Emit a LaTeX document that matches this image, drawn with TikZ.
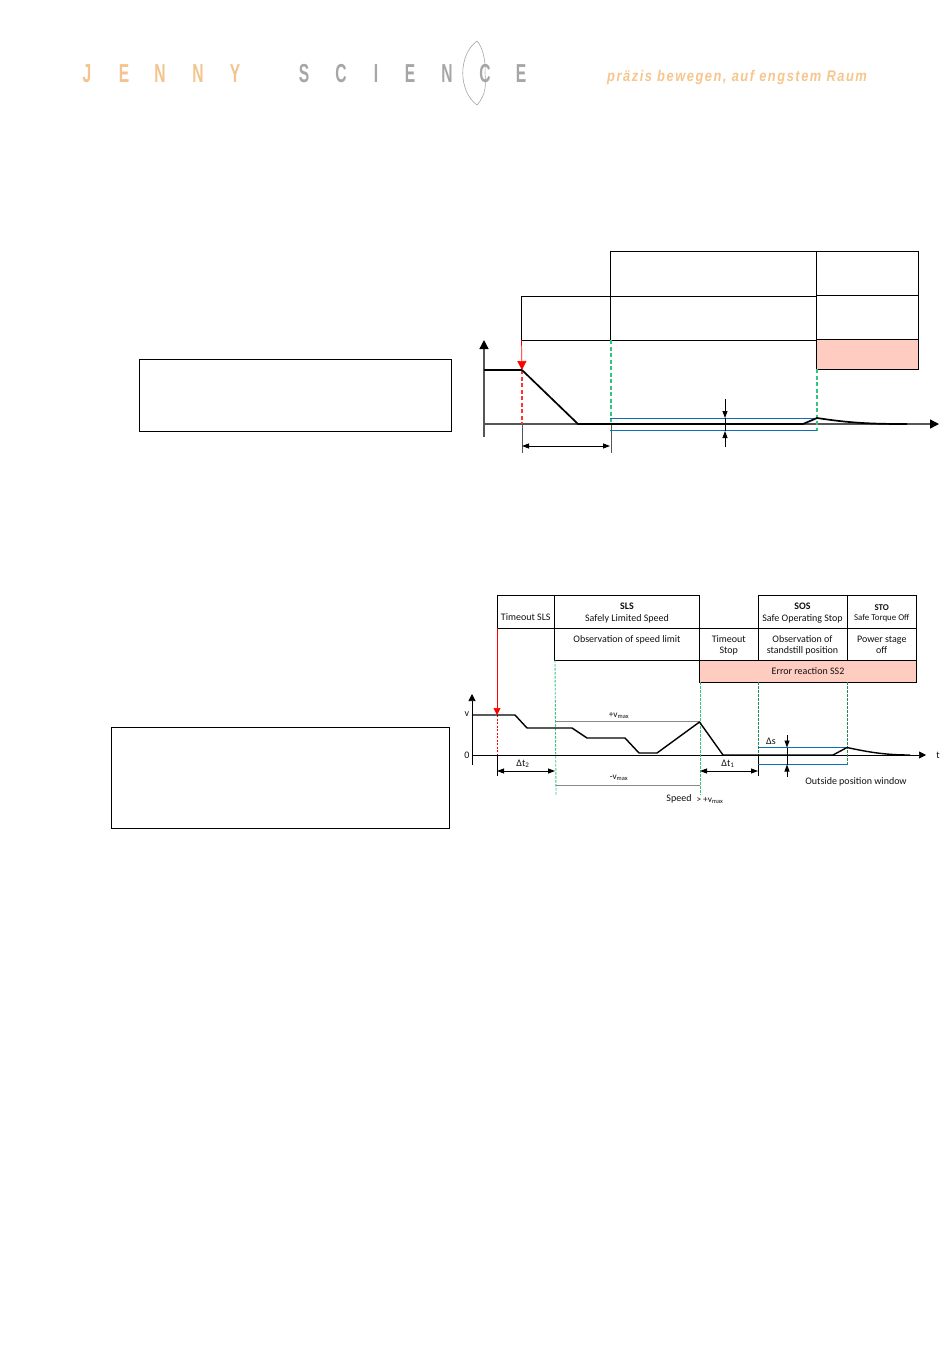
\documentclass[tikz,border=0pt]{standalone}
\usepackage{fontspec}
\usepackage{graphicx}
\setmainfont{Carlito}
\setsansfont{Liberation Sans}
\newfontfamily\logofont[LetterSpace=12]{Liberation Sans}
\usetikzlibrary{arrows.meta}
\definecolor{logoorange}{HTML}{F3C48F}
\definecolor{logogrey}{HTML}{A6A6A6}
\definecolor{tagorange}{HTML}{F6C68E}
\definecolor{pinkfill}{HTML}{FFCCC2}
\definecolor{safegreen}{HTML}{35C47C}
\definecolor{winblue}{HTML}{0F6FB5}
\definecolor{axisgrey}{HTML}{555555}
\definecolor{txt}{HTML}{111111}
\newcommand{\logoletter}[1]{\scalebox{0.6}[1]{#1}}
\newcommand{\twolines}[2]{\raisebox{-4pt}[0pt][0pt]{\begin{tabular}[c]{@{}c@{}}#1\\#2\end{tabular}}}
\tikzset{
  x=1pt,y=-1pt,
  cell/.style={draw=black,line width=0.9pt,anchor=north west,inner sep=0pt,outer sep=0pt,align=center,font=\fontsize{10}{11.5}\selectfont,text=txt},
  pinkcell/.style={cell,fill=pinkfill},
  plainbox/.style={draw=black,line width=0.7pt,anchor=north west,inner sep=0pt,outer sep=0pt},
  lab/.style={inner sep=0pt,font=\fontsize{10}{11}\selectfont,text=txt},
  sublab/.style={lab,font=\fontsize{9.2}{10}\selectfont},
  jlet/.style={inner sep=0pt,font=\bfseries\fontsize{26}{26}\selectfont\sffamily,text=logoorange},
  slet/.style={jlet,text=logogrey},
  motion/.style={line width=1.7pt,black,line join=round},
  axisA/.style={axisgrey,line width=1.3pt,-{Triangle[length=9pt,width=9pt,color=black]}},
  axisB/.style={black,line width=0.7pt,-{Triangle[length=7pt,width=7pt]}},
  ref/.style={axisgrey,line width=1pt},
  span/.style={black,line width=0.8pt,{Triangle[length=7pt,width=5pt]}-{Triangle[length=7pt,width=5pt]}},
  pointer/.style={black,line width=0.8pt,-{Triangle[length=7pt,width=5pt]}},
  redarrow/.style={red,line width=0.7pt,-{Triangle[length=9pt,width=9pt]}},
  redarrowsmall/.style={red,line width=0.7pt,-{Triangle[length=7pt,width=7pt]}},
  reddash/.style={red!80,line width=1.3pt,dash pattern=on 4pt off 2.5pt},
  greendash/.style={safegreen,line width=1.3pt,dash pattern=on 4pt off 2.5pt},
  thingreen/.style={safegreen,line width=0.9pt,dash pattern=on 2.5pt off 1.5pt},
  darkgreen/.style={safegreen!70!black,line width=0.9pt,dash pattern=on 2.5pt off 1.5pt},
  windowline/.style={winblue,line width=0.8pt},
  limitline/.style={axisgrey!70,line width=0.8pt},
}
\begin{document}
\begin{tikzpicture}
\useasboundingbox (0,0) rectangle (950,1360);
\fill[white] (0,0) rectangle (950,1360);

% logo
\node[jlet] (l1) at (87,74) {\logoletter{J}};
\node[jlet] (l2) at (124,74) {\logoletter{E}};
\node[jlet] (l3) at (160,74) {\logoletter{N}};
\node[jlet] (l4) at (198,74) {\logoletter{N}};
\node[jlet] (l5) at (235,74) {\logoletter{Y}};
\node[slet] (l6) at (304,74) {\logoletter{S}};
\node[slet] (l7) at (341,74) {\logoletter{C}};
\node[slet] (l8) at (376,74) {\logoletter{I}};
\node[slet] (l9) at (410,74) {\logoletter{E}};
\node[slet] (l10) at (447,74) {\logoletter{N}};
\node[slet] (l11) at (485,74) {\logoletter{C}};
\node[slet] (l12) at (521,74) {\logoletter{E}};
\draw[logogrey,line width=0.6pt] (477,41) .. controls (458,55) and (458,91) .. (477,105)
  .. controls (486,95) and (486,85) .. (485,73) .. controls (486,60) and (482,46) .. (477,41);
\node[inner sep=0pt,anchor=west,text=tagorange,font={\logofont\bfseries\itshape\fontsize{15.5}{16}\selectfont}] (tag) at (607,77.5) {\scalebox{0.83}[1]{präzis bewegen, auf engstem Raum}};

% empty text frames
\node[plainbox,minimum width=312pt,minimum height=72pt] (frameA) at (139,359) {};
\node[plainbox,minimum width=338pt,minimum height=101pt] (frameB) at (111,727) {};

% ---------- first diagram ----------
\node[pinkcell,minimum width=102pt,minimum height=30pt] (a7) at (816.5,339) {};
\node[cell,minimum width=206.5pt,minimum height=45pt] (a1) at (610,251) {};
\node[cell,minimum width=102pt,minimum height=44pt] (a2) at (816.5,251) {};
\node[cell,minimum width=89pt,minimum height=44pt] (a3) at (521.5,296) {};
\node[cell,minimum width=206.5pt,minimum height=44pt] (a4) at (610,296) {};
\node[cell,minimum width=102pt,minimum height=44pt] (a5) at (816.5,295) {};

\coordinate (aO) at (484,424);
\coordinate (aYb) at (484,437);
\coordinate (aYt) at (484,340);
\coordinate (aXe) at (939,424);
\coordinate (aRed) at (522,370);
\coordinate (aRedB) at (522,424);
\coordinate (aTickA) at (522,453);
\coordinate (aTickB) at (611,453);
\coordinate (aGA) at (611,340);
\coordinate (aGAb) at (611,424);
\coordinate (aGB) at (817,369);
\coordinate (aGBb) at (817,431);
\coordinate (aWT1) at (610,418);
\coordinate (aWT2) at (817,418);
\coordinate (aWB1) at (610,430.5);
\coordinate (aWB2) at (817,430.5);
\coordinate (aS1) at (725,399);
\coordinate (aS2) at (725,418);
\coordinate (aS3) at (725,447);
\coordinate (aS4) at (725,431);
\coordinate (aD1) at (522,446);
\coordinate (aD2) at (610,446);

\draw[axisA] (aYb) -- (aYt);
\draw[axisA] (aO) -- (aXe);
\draw[reddash] (aRed) -- (aRedB);
\draw[ref] (aRedB) -- (aTickA);
\draw[ref] (aGAb) -- (aTickB);
\draw[greendash] (aGA) -- (aGAb);
\draw[greendash] (aGB) -- (aGBb);
\draw[windowline] (aWT1) -- (aWT2);
\draw[windowline] (aWB1) -- (aWB2);
\draw[motion] (484,370) -- (aRed) -- (578,424) -- (803,424) -- (817,418) .. controls (850,423) and (870,424) .. (907,424);
\draw[redarrow] (a3.south west) -- (aRed);
\draw[pointer] (aS1) -- (aS2);
\draw[pointer] (aS3) -- (aS4);
\draw[black,line width=0.8pt] (aS2) -- (aS4);
\draw[span] (aD1) -- (aD2);

% ---------- second diagram ----------
\node[pinkcell,minimum width=217pt,minimum height=22pt] (b9) at (699.5,660) {Error reaction SS2};
\node[cell,minimum width=57.5pt,minimum height=33pt] (b1) at (497,595) {\raisebox{-8.5pt}[0pt][0pt]{Timeout SLS}};
\node[cell,minimum width=145pt,minimum height=33pt] (b2) at (554.5,595) {\twolines{\textbf{SLS}}{Safely Limited Speed}};
\node[cell,minimum width=89pt,minimum height=33pt] (b4) at (758,595) {\twolines{\textbf{SOS}}{Safe Operating Stop}};
\node[cell,minimum width=69.5pt,minimum height=33pt,font=\fontsize{8.9}{10.5}\selectfont] (b5) at (847,595) {\twolines{\textbf{STO}}{Safe Torque Off}};
\node[cell,minimum width=145pt,minimum height=32pt] (b6) at (554.5,628) {\raisebox{9pt}{Observation of speed limit}};
\node[cell,minimum width=58.5pt,minimum height=32pt] (b7) at (699.5,628) {\twolines{Timeout}{Stop}};
\node[cell,minimum width=89pt,minimum height=32pt] (b8) at (758,628) {\twolines{Observation of}{standstill position}};
\node[cell,minimum width=69.5pt,minimum height=32pt] (b10) at (847,628) {\twolines{Power stage}{off}};

\coordinate (bYb) at (472,765);
\coordinate (bYt) at (472,694);
\coordinate (bO) at (472,755);
\coordinate (bXe) at (926,755);
\coordinate (bRed) at (497,715);
\coordinate (bRedB) at (497,755);
\coordinate (bTickA) at (497,776);
\coordinate (bG1) at (555,660);
\coordinate (bG1b) at (556,795);
\coordinate (bG2) at (700,682);
\coordinate (bG2b) at (700,795);
\coordinate (bG3) at (758,682);
\coordinate (bG3b) at (758,755);
\coordinate (bTick3) at (758,776);
\coordinate (bG4) at (847.5,682);
\coordinate (bG4b) at (847.5,765);
\coordinate (bVp1) at (555,721.5);
\coordinate (bVp2) at (700,721.5);
\coordinate (bVm1) at (556,785);
\coordinate (bVm2) at (700,785);
\coordinate (bW1a) at (758,747.5);
\coordinate (bW1b) at (847,747.5);
\coordinate (bW2a) at (758,764.5);
\coordinate (bW2b) at (847,764.5);
\coordinate (bS1) at (787,735);
\coordinate (bS2) at (787,747.5);
\coordinate (bS3) at (787,777);
\coordinate (bS4) at (787,764.5);
\coordinate (bD1) at (497,771);
\coordinate (bD2) at (555,771);
\coordinate (bD3) at (700,771);
\coordinate (bD4) at (758,771);

\draw[axisB] (bYb) -- (bYt);
\draw[axisB] (bO) -- (bXe);
\draw[red,line width=0.9pt,dash pattern=on 2pt off 1.5pt] (bRed) -- (bRedB);
\draw[black,line width=0.8pt] (bRedB) -- (bTickA);
\draw[black,line width=0.8pt] (bG3b) -- (bTick3);
\draw[thingreen] (bG1) -- (bG1b);
\draw[thingreen] (bG2) -- (bG2b);
\draw[darkgreen] (bG3) -- (bG3b);
\draw[darkgreen] (bG4) -- (bG4b);
\draw[limitline] (bVp1) -- (bVp2);
\draw[limitline] (bVm1) -- (bVm2);
\draw[windowline] (bW1a) -- (bW1b);
\draw[windowline] (bW2a) -- (bW2b);
\draw[motion,line width=1.4pt] (472,715) -- (515,715) -- (527,728) -- (572,728) -- (587,738) -- (625,738) -- (639,753) -- (657,753) -- (699.5,722) -- (723,755) -- (833,755) -- (847,747.5) .. controls (868,752) and (885,755) .. (910,755);
\draw[redarrowsmall] (b1.south west) -- (bRed);
\draw[pointer] (bS1) -- (bS2);
\draw[pointer] (bS3) -- (bS4);
\draw[black,line width=0.8pt] (bS2) -- (bS4);
\draw[span] (bD1) -- (bD2);
\draw[span] (bD3) -- (bD4);

\node[lab] (v) at (467,714) {v};
\node[lab] (zero) at (467,755.5) {0};
\node[lab] (t) at (938,755) {t};
\node[sublab] (vp) at (619,715) {+v\textsubscript{max}};
\node[sublab] (vm) at (619,778) {-v\textsubscript{max}};
\node[lab] (dt2) at (523,764) {Δt\textsubscript{2}};
\node[lab] (dt1) at (728,764) {Δt\textsubscript{1}};
\node[lab] (ds) at (771,741) {Δs};
\node[lab] (out) at (856,782) {Outside position window};
\node[lab] (speed) at (679,799) {Speed};
\node[sublab] (gt) at (710,800) {> +v\textsubscript{max}};
\end{tikzpicture}
\end{document}
